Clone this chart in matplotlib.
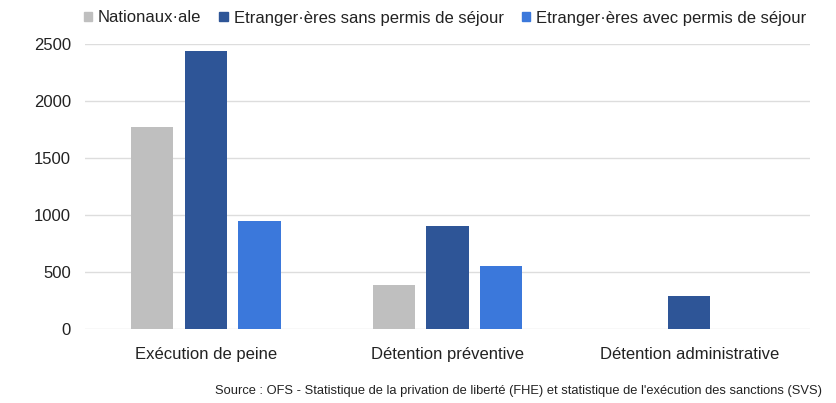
import matplotlib.pyplot as plt
from matplotlib.patches import Patch
import numpy as np

plt.rcParams['font.family'] = ['Liberation Sans', 'DejaVu Sans']

categories = ["Exécution de peine", "Détention préventive", "Détention administrative"]
series_names = ["Nationaux·ale", "Etranger·ères sans permis de séjour",
                "Etranger·ères avec permis de séjour"]
nationaux = [1770, 390, 0]
sans_permis = [2440, 905, 290]
avec_permis = [950, 555, 0]
colors = ["#BFBFBF", "#2E5597", "#3B78DB"]
source = ("Source : OFS - Statistique de la privation de liberté (FHE) et statistique "
          "de l'exécution des sanctions (SVS)")

fig = plt.figure(figsize=(8.37, 4.03), dpi=100)
ax = fig.add_axes([85/837, 74/403, 725/837, 285/403])

x = np.arange(len(categories))
width = 0.174
step = 0.222
for j, vals in enumerate([nationaux, sans_permis, avec_permis]):
    ax.bar(x + (j - 1)*step, vals, width, color=colors[j], zorder=2)

ax.set_xlim(-0.5, 2.5)
ax.set_ylim(0, 2500)
ax.set_yticks([0, 500, 1000, 1500, 2000, 2500])
ax.set_xticks(x)
ax.set_xticklabels(categories)
ax.grid(axis='y', color='#DDDDDD', linewidth=1, zorder=0)
for s in ax.spines.values():
    s.set_visible(False)
ax.tick_params(axis='both', length=0, labelsize=12, colors='#222222')
ax.tick_params(axis='y', pad=10)
ax.tick_params(axis='x', pad=13)

handles = [Patch(color=c) for c in colors]
fig.legend(handles, series_names, loc='center', bbox_to_anchor=(445/837, 1 - 18/403),
           ncol=3, frameon=False, fontsize=12, handlelength=0.5, handleheight=0.5,
           handletextpad=0.35, columnspacing=1.1, labelcolor='#222222')

fig.text(822/837, 1 - 391/403, source, ha='right', va='center', fontsize=9.3, color='#222222')

fig.savefig("out.png", dpi=100)
